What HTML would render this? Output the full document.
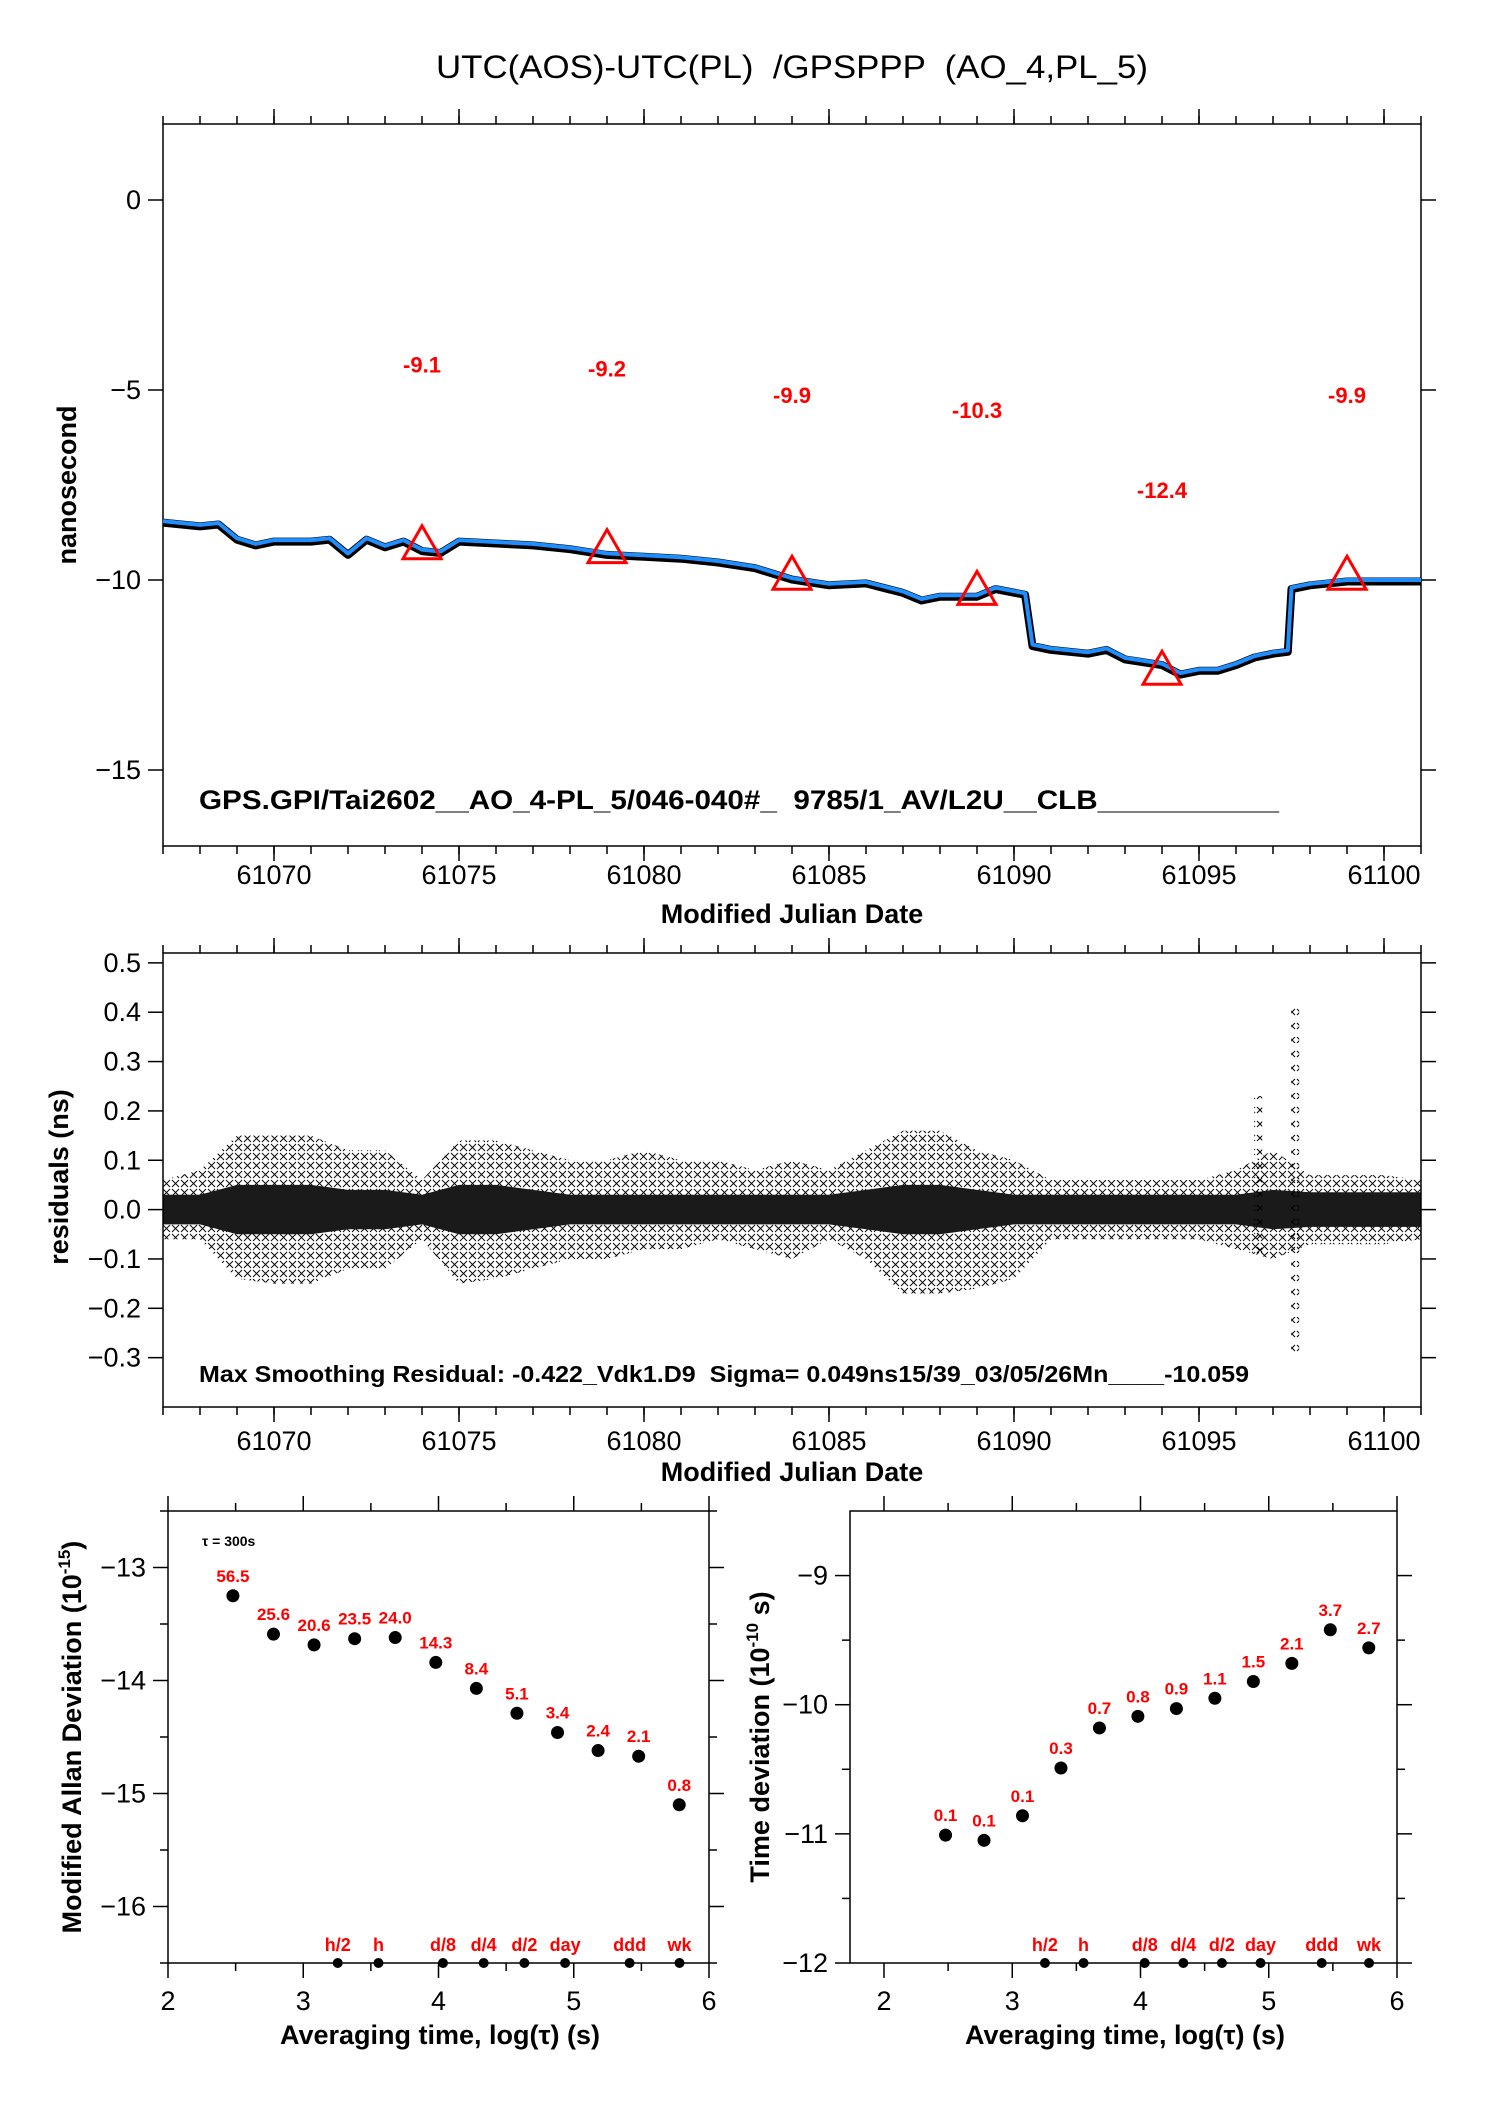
<!DOCTYPE html>
<html><head><meta charset="utf-8"><style>
html,body{margin:0;padding:0;background:#fff}
svg{display:block;font-family:"Liberation Sans",Arial,sans-serif}
text{white-space:pre}
</style></head><body>
<svg id="fig" width="1488" height="2105" viewBox="0 0 1488 2105" xmlns="http://www.w3.org/2000/svg" xml:space="preserve">
<text x="792" y="78" font-size="32" text-anchor="middle" textLength="712" lengthAdjust="spacingAndGlyphs">UTC(AOS)-UTC(PL)  /GPSPPP  (AO_4,PL_5)</text>
<g id="top"></g>
<g id="mid"></g>
<g id="bl"></g>
<g id="br"></g>
</svg>
<script>
// ---------- data ----------
const offMjd = [61067,61067.5,61068,61068.5,61069,61069.5,61070,61070.5,61071,61071.5,61072,61072.5,61073,61073.5,61074,61074.5,61075,61076,61077,61078,61079,61080,61081,61082,61083,61084,61085,61086,61087,61087.5,61088,61089,61089.5,61090.3,61090.5,61091,61092,61092.5,61093,61094,61094.5,61095,61095.5,61096,61096.5,61097,61097.4,61097.5,61098,61099,61100,61101];
const offVal = [-8.45,-8.5,-8.55,-8.5,-8.9,-9.05,-8.95,-8.95,-8.95,-8.9,-9.3,-8.9,-9.1,-8.95,-9.2,-9.25,-8.95,-9.0,-9.05,-9.15,-9.3,-9.35,-9.4,-9.5,-9.65,-9.95,-10.1,-10.05,-10.3,-10.5,-10.4,-10.4,-10.2,-10.35,-11.7,-11.8,-11.9,-11.8,-12.05,-12.2,-12.45,-12.35,-12.35,-12.2,-12.0,-11.9,-11.85,-10.2,-10.1,-10.0,-10.0,-10.0];
const triMjd = [61074,61079,61084,61089,61094,61099];
const triVal = [-9.1,-9.2,-9.9,-10.3,-12.4,-9.9];
const triLbl = ["-9.1","-9.2","-9.9","-10.3","-12.4","-9.9"];
const resMjd = [61067,61068,61069,61070,61071,61072,61073,61074,61075,61076,61077,61078,61079,61080,61081,61082,61083,61084,61085,61086,61087,61088,61089,61090,61091,61092,61093,61094,61095,61096,61097,61098,61099,61100,61101];
const resHi  = [0.06,0.08,0.15,0.15,0.15,0.12,0.12,0.06,0.14,0.14,0.12,0.1,0.1,0.12,0.1,0.1,0.08,0.1,0.08,0.12,0.16,0.16,0.12,0.1,0.06,0.06,0.06,0.06,0.06,0.08,0.12,0.07,0.07,0.07,0.06];
const resLo  = [-0.06,-0.06,-0.14,-0.15,-0.15,-0.12,-0.12,-0.06,-0.15,-0.14,-0.12,-0.1,-0.1,-0.08,-0.08,-0.06,-0.08,-0.1,-0.06,-0.1,-0.17,-0.17,-0.16,-0.14,-0.06,-0.06,-0.06,-0.06,-0.06,-0.08,-0.1,-0.07,-0.07,-0.07,-0.06];
const resCore = [0.03,0.03,0.05,0.05,0.05,0.04,0.04,0.03,0.05,0.05,0.04,0.03,0.03,0.03,0.03,0.03,0.03,0.03,0.03,0.04,0.05,0.05,0.04,0.03,0.03,0.03,0.03,0.03,0.03,0.03,0.04,0.035,0.035,0.035,0.035];
const spikeMjd = [61096.6,61097.6];
const spikeHi = [0.23,0.42];
const spikeLo = [-0.1,-0.3];
const logTau = [2.48,2.78,3.08,3.38,3.68,3.98,4.28,4.58,4.88,5.18,5.48,5.78];
const mdevVal = [-13.25,-13.59,-13.685,-13.63,-13.62,-13.84,-14.07,-14.29,-14.46,-14.62,-14.67,-15.1];
const mdevLbl = ["56.5","25.6","20.6","23.5","24.0","14.3","8.4","5.1","3.4","2.4","2.1","0.8"];
const tdevVal = [-11.01,-11.05,-10.86,-10.49,-10.18,-10.09,-10.03,-9.95,-9.82,-9.68,-9.42,-9.56];
const tdevLbl = ["0.1","0.1","0.1","0.3","0.7","0.8","0.9","1.1","1.5","2.1","3.7","2.7"];
const markPos = [3.255,3.556,4.033,4.334,4.635,4.936,5.413,5.782];
const markLbl = ["h/2","h","d/8","d/4","d/2","day","ddd","wk"];
const mjdTicks = [61070,61075,61080,61085,61090,61095,61100];

const NS="http://www.w3.org/2000/svg";
function el(p,t,a,txt){const e=document.createElementNS(NS,t);for(const k in a)e.setAttribute(k,a[k]);if(txt!==undefined)e.textContent=txt;p.appendChild(e);return e;}
function lin(d0,d1,r0,r1){return v=>r0+(v-d0)/(d1-d0)*(r1-r0);}

function frame(g,L,R,T,B){
  const f=el(g,'rect',{x:L,y:T,width:R-L,height:B-T,fill:'none',stroke:'#000','stroke-width':1.5});
  
  
}
function xTicks(g,sx,T,B,majors,minors,lblY,fs){
  minors.forEach(v=>{const x=sx(v);
    el(g,'line',{x1:x,y1:T,x2:x,y2:T-8,stroke:'#000','stroke-width':1.5});
    el(g,'line',{x1:x,y1:B,x2:x,y2:B+8,stroke:'#000','stroke-width':1.5});});
  majors.forEach(v=>{const x=sx(v);
    el(g,'line',{x1:x,y1:T,x2:x,y2:T-15,stroke:'#000','stroke-width':1.5});
    el(g,'line',{x1:x,y1:B,x2:x,y2:B+15,stroke:'#000','stroke-width':1.5});
    const t=el(g,'text',{x:x,y:lblY,'font-size':fs,'text-anchor':'middle'},String(v));
    
    });
}
function yTicks(g,sy,L,R,majors,minors,fmt,fs){
  minors.forEach(v=>{const y=sy(v);
    el(g,'line',{x1:L,y1:y,x2:L-8,y2:y,stroke:'#000','stroke-width':1.5});
    el(g,'line',{x1:R,y1:y,x2:R+8,y2:y,stroke:'#000','stroke-width':1.5});});
  majors.forEach(v=>{const y=sy(v);
    el(g,'line',{x1:L,y1:y,x2:L-15,y2:y,stroke:'#000','stroke-width':1.5});
    el(g,'line',{x1:R,y1:y,x2:R+15,y2:y,stroke:'#000','stroke-width':1.5});
    const t=el(g,'text',{x:L-22,y:y+9,'font-size':fs,'text-anchor':'end'},fmt(v));
    
    });
}
function range(a,b,s){const r=[];for(let v=a;v<=b+1e-9;v+=s)r.push(+v.toFixed(4));return r;}
const minus=v=>String(v).replace('-','\u2212');

// ---------- top plot ----------
(function(){
  const g=document.getElementById('top');
  const L=163,R=1421,T=124,B=846;
  const sx=lin(61067,61101,L,R), sy=lin(-17,2,B,T);
  frame(g,L,R,T,B);
  xTicks(g,sx,T,B,mjdTicks,range(61067,61101,1),884,27);
  yTicks(g,sy,L,R,[0,-5,-10,-15],[],minus,27);
  const pts=offMjd.map((m,i)=>sx(m).toFixed(1)+','+sy(offVal[i]).toFixed(1)).join(' ');
  const b=el(g,'polyline',{points:offMjd.map((m,i)=>sx(m).toFixed(1)+','+(sy(offVal[i])+1.5).toFixed(1)).join(' '),fill:'none',stroke:'#000','stroke-width':8,'stroke-linejoin':'round'});
  
  
  const l=el(g,'polyline',{points:pts,fill:'none',stroke:'#1f8fff','stroke-width':4,'stroke-linejoin':'round'});
  
  
  triMjd.forEach((m,i)=>{const x=sx(m),y=sy(triVal[i]);
    const t=el(g,'polygon',{points:`${x},${y-20} ${x-19},${y+13} ${x+19},${y+13}`,fill:'none',stroke:'#ff0000','stroke-width':3});
    
    
    const tx=el(g,'text',{x:x,y:sy(triVal[i]+4.77)+8,'font-size':22,'font-weight':'bold',fill:'#ff0000','text-anchor':'middle'},triLbl[i]);
    
    });
  const a=el(g,'text',{x:199,y:809,'font-size':27,'font-weight':'bold',textLength:1080,lengthAdjust:'spacingAndGlyphs'},'GPS.GPI/Tai2602__AO_4-PL_5/046-040#_  9785/1_AV/L2U__CLB___________');
  
  
  const yl=el(g,'text',{x:0,y:0,'font-size':27,'font-weight':'bold','text-anchor':'middle',transform:'translate(76,485) rotate(-90)'},'nanosecond');
  
  
  const xl=el(g,'text',{x:792,y:923,'font-size':27,'font-weight':'bold','text-anchor':'middle'},'Modified Julian Date');
  
  
})();

// ---------- residual plot ----------
(function(){
  const g=document.getElementById('mid');
  const L=163,R=1421,T=953,B=1407;
  const sx=lin(61067,61101,L,R), sy=lin(-0.4,0.52,B,T);
  const defs=el(g,'defs',{});
  const p=el(defs,'pattern',{id:'xh',width:9,height:9,patternUnits:'userSpaceOnUse'});
  el(p,'path',{d:'M1,1L8,8M8,1L1,8',stroke:'#000','stroke-width':0.9});
  const p2=el(defs,'pattern',{id:'xs',width:8,height:14,patternUnits:'userSpaceOnUse'});
  el(p2,'path',{d:'M1,1L7,7M7,1L1,7',stroke:'#000','stroke-width':1});
  const top=resMjd.map((m,i)=>sx(m).toFixed(1)+','+sy(resHi[i]).toFixed(1));
  const bot=resMjd.map((m,i)=>sx(m).toFixed(1)+','+sy(resLo[i]).toFixed(1)).reverse();
  const env=el(g,'polygon',{points:top.concat(bot).join(' '),fill:'url(#xh)',stroke:'none'});
  
  
  const ct=resMjd.map((m,i)=>sx(m).toFixed(1)+','+sy(resCore[i]).toFixed(1));
  const cb=resMjd.map((m,i)=>sx(m).toFixed(1)+','+sy(-resCore[i]).toFixed(1)).reverse();
  const core=el(g,'polygon',{points:ct.concat(cb).join(' '),fill:'#1a1a1a',stroke:'none'});
  
  
  spikeMjd.forEach((m,i)=>{
    const s=el(g,'rect',{x:sx(m)-4,y:sy(spikeHi[i]),width:8,height:sy(spikeLo[i])-sy(spikeHi[i]),fill:'url(#xs)'});
    
    });
  frame(g,L,R,T,B);
  xTicks(g,sx,T,B,mjdTicks,range(61067,61101,1),1450,27);
  yTicks(g,sy,L,R,[0.5,0.4,0.3,0.2,0.1,0.0,-0.1,-0.2,-0.3],[],v=>minus(v.toFixed(1)),27);
  const a=el(g,'text',{x:199,y:1382,'font-size':23,'font-weight':'bold',textLength:1050,lengthAdjust:'spacingAndGlyphs'},'Max Smoothing Residual: -0.422_Vdk1.D9  Sigma= 0.049ns15/39_03/05/26Mn____-10.059');
  
  
  const yl=el(g,'text',{x:0,y:0,'font-size':27,'font-weight':'bold','text-anchor':'middle',transform:'translate(68,1177) rotate(-90)'},'residuals (ns)');
  
  
  const xl=el(g,'text',{x:792,y:1481,'font-size':27,'font-weight':'bold','text-anchor':'middle'},'Modified Julian Date');
  
  
})();

// ---------- stability plots ----------
function stab(id,L,R,xd0,yd0,yd1,vals,lbls,yMaj,yMin,title,titleX,xTitleX){
  const g=document.getElementById(id);
  const T=1511,B=1963;
  const sx=lin(xd0,6,L,R), sy=lin(yd0,yd1,B,T);
  frame(g,L,R,T,B);
  xTicks(g,sx,T,B,[2,3,4,5,6],[2.5,3.5,4.5,5.5],2010,27);
  yTicks(g,sy,L,R,yMaj,yMin,minus,27);
  logTau.forEach((x,i)=>{
    const c=el(g,'circle',{cx:sx(x),cy:sy(vals[i]),r:6.5,fill:'#000'});
    
    
    const t=el(g,'text',{x:sx(x),y:sy(vals[i])-14,'font-size':17,'font-weight':'bold',fill:'#ff0000','text-anchor':'middle'},lbls[i]);
    
    });
  markPos.forEach((x,i)=>{
    const c=el(g,'circle',{cx:sx(x),cy:B,r:5,fill:'#000'});
    
    
    const t=el(g,'text',{x:sx(x),y:B-12,'font-size':18,'font-weight':'bold',fill:'#ff0000','text-anchor':'middle'},markLbl[i]);
    
    });
  const yl=el(g,'text',{x:0,y:0,'font-size':27,'font-weight':'bold','text-anchor':'middle',transform:`translate(${titleX},1737) rotate(-90)`});
  
  
  yl.appendChild(document.createTextNode(title[0]));
  el(yl,'tspan',{'font-size':17,dy:-11},title[1]);
  el(yl,'tspan',{dy:11},title[2]);
  const xl=el(g,'text',{x:xTitleX,y:2044,'font-size':27,'font-weight':'bold','text-anchor':'middle'},'Averaging time, log(\u03c4) (s)');
  
  
  return g;
}
const gbl=stab('bl',168,709,2,-16.5,-12.5,mdevVal,mdevLbl,[-13,-14,-15,-16],[-12.5,-13.5,-14.5,-15.5,-16.5],['Modified Allan Deviation (10','-15',')'],81,440);
const tau=el(gbl,'text',{x:202,y:1546,'font-size':14,'font-weight':'bold'},'\u03c4 = 300s');


stab('br',850,1397,1.735,-12,-8.5,tdevVal,tdevLbl,[-9,-10,-11,-12],[-9.5,-10.5,-11.5],['Time deviation (10','-10',' s)'],769,1125);
</script>
</body></html>
